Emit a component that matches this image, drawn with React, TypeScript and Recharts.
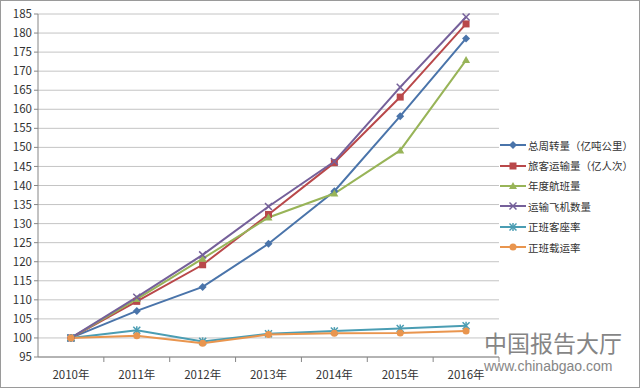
import { LineChart, Line, XAxis, YAxis, CartesianGrid } from 'recharts';

const years = ['2010年', '2011年', '2012年', '2013年', '2014年', '2015年', '2016年'];
const totalTurnover = [100, 107.1, 113.4, 124.7, 138.5, 158.2, 178.6];
const passengers = [100, 109.6, 119.2, 132.4, 146.0, 163.2, 182.4];
const flights = [100, 110.2, 120.8, 131.6, 137.9, 149.2, 172.9];
const aircraft = [100, 110.7, 121.8, 134.5, 146.3, 165.8, 184.2];
const seatRate = [100, 102.0, 99.1, 101.1, 101.8, 102.5, 103.2];
const loadRate = [100, 100.6, 98.6, 100.9, 101.2, 101.3, 101.8];
const yTicks = [95, 100, 105, 110, 115, 120, 125, 130, 135, 140, 145, 150, 155, 160, 165, 170, 175, 180, 185];

const series = [
  { key: 'turnover', name: '总周转量（亿吨公里）', color: '#4A74AA', shape: 'diamond', values: totalTurnover },
  { key: 'passengers', name: '旅客运输量（亿人次）', color: '#B9484A', shape: 'square', values: passengers },
  { key: 'flights', name: '年度航班量', color: '#98B458', shape: 'triangle', values: flights },
  { key: 'aircraft', name: '运输飞机数量', color: '#75609A', shape: 'cross', values: aircraft },
  { key: 'seat', name: '正班客座率', color: '#4A9DB3', shape: 'star', values: seatRate },
  { key: 'load', name: '正班载运率', color: '#E9954E', shape: 'circle', values: loadRate },
];

const data = years.map((year, i) => {
  const row: any = { year };
  series.forEach((s) => (row[s.key] = s.values[i]));
  return row;
});

const FONT = '"Noto Sans CJK SC", "Noto Sans", sans-serif';
const STEP = 461 / 7;

const Marker = ({ shape, color, cx, cy }: any) => {
  switch (shape) {
    case 'diamond':
      return <polygon points={`${cx},${cy - 4} ${cx + 4},${cy} ${cx},${cy + 4} ${cx - 4},${cy}`} fill={color} />;
    case 'square':
      return <rect x={cx - 3.5} y={cy - 3.5} width={7} height={7} fill={color} />;
    case 'triangle':
      return <polygon points={`${cx},${cy - 4} ${cx + 4},${cy + 3} ${cx - 4},${cy + 3}`} fill={color} />;
    case 'cross':
      return (
        <g stroke={color} strokeWidth={1.5}>
          <line x1={cx - 3.5} y1={cy - 3.5} x2={cx + 3.5} y2={cy + 3.5} />
          <line x1={cx - 3.5} y1={cy + 3.5} x2={cx + 3.5} y2={cy - 3.5} />
        </g>
      );
    case 'star':
      return (
        <g stroke={color} strokeWidth={1.5}>
          <line x1={cx - 3.5} y1={cy - 3.5} x2={cx + 3.5} y2={cy + 3.5} />
          <line x1={cx - 3.5} y1={cy + 3.5} x2={cx + 3.5} y2={cy - 3.5} />
          <line x1={cx} y1={cy - 4} x2={cx} y2={cy + 4} />
        </g>
      );
    default:
      return <circle cx={cx} cy={cy} r={3.5} fill={color} />;
  }
};

const makeDot = (shape: string, color: string) => (props: any) => (
  <g key={`${shape}-${props.index}`}>
    <Marker shape={shape} color={color} cx={props.cx} cy={props.cy} />
  </g>
);

const XTick = ({ x, y, payload }: any) => (
  <g>
    <line x1={x + STEP / 2} y1={y - 8} x2={x + STEP / 2} y2={y - 3} stroke="#868686" />
    <text x={x} y={y + 14} textAnchor="middle" fontSize={11.5} fill="#333" fontFamily={FONT}>
      {payload.value}
    </text>
  </g>
);

export default function App() {
  return (
    <div
      style={{
        position: 'absolute',
        left: 0,
        top: 0,
        width: 638,
        height: 386,
        border: '1px solid #9a9a9a',
        background: '#fff',
        fontFamily: FONT,
      }}
    >
      <LineChart width={638} height={386} data={data} margin={{ top: 13, right: 140, bottom: 0, left: 0 }}>
        <CartesianGrid vertical={false} stroke="#C4C4C4" />
        <XAxis
          dataKey="year"
          padding={{ left: STEP / 2, right: STEP / 2 }}
          tickLine={false}
          axisLine={{ stroke: '#868686' }}
          tick={<XTick />}
          height={30}
          interval={0}
        />
        <YAxis
          domain={[95, 185]}
          ticks={yTicks}
          width={37}
          interval={0}
          axisLine={{ stroke: '#868686' }}
          tickLine={{ stroke: '#868686' }}
          tickSize={4}
          tick={{ fontSize: 11.5, fill: '#333', fontFamily: FONT }}
        />
        {series.map((s) => (
          <Line
            key={s.key}
            dataKey={s.key}
            name={s.name}
            stroke={s.color}
            strokeWidth={2}
            dot={makeDot(s.shape, s.color)}
            activeDot={false}
            isAnimationActive={false}
          />
        ))}
      </LineChart>

      <div style={{ position: 'absolute', left: 499, top: 134 }}>
        {series.map((s) => (
          <div key={s.key} style={{ display: 'flex', alignItems: 'center', height: 20.4 }}>
            <svg width={26} height={10}>
              <line x1={0} y1={5} x2={26} y2={5} stroke={s.color} strokeWidth={2} />
              <Marker shape={s.shape} color={s.color} cx={13} cy={5} />
            </svg>
            <span style={{ fontSize: 10.5, color: '#333', marginLeft: 2, whiteSpace: 'nowrap' }}>{s.name}</span>
          </div>
        ))}
      </div>

      <div style={{ position: 'absolute', left: 483, top: 328, color: '#707070', opacity: 0.85, lineHeight: 1 }}>
        <div style={{ fontSize: 23, lineHeight: '26px' }}>中国报告大厅</div>
        <div style={{ fontSize: 14, lineHeight: '16px', marginTop: 3, fontFamily: 'Arial, "Liberation Sans", sans-serif' }}>
          www.chinabgao.com
        </div>
      </div>
    </div>
  );
}
